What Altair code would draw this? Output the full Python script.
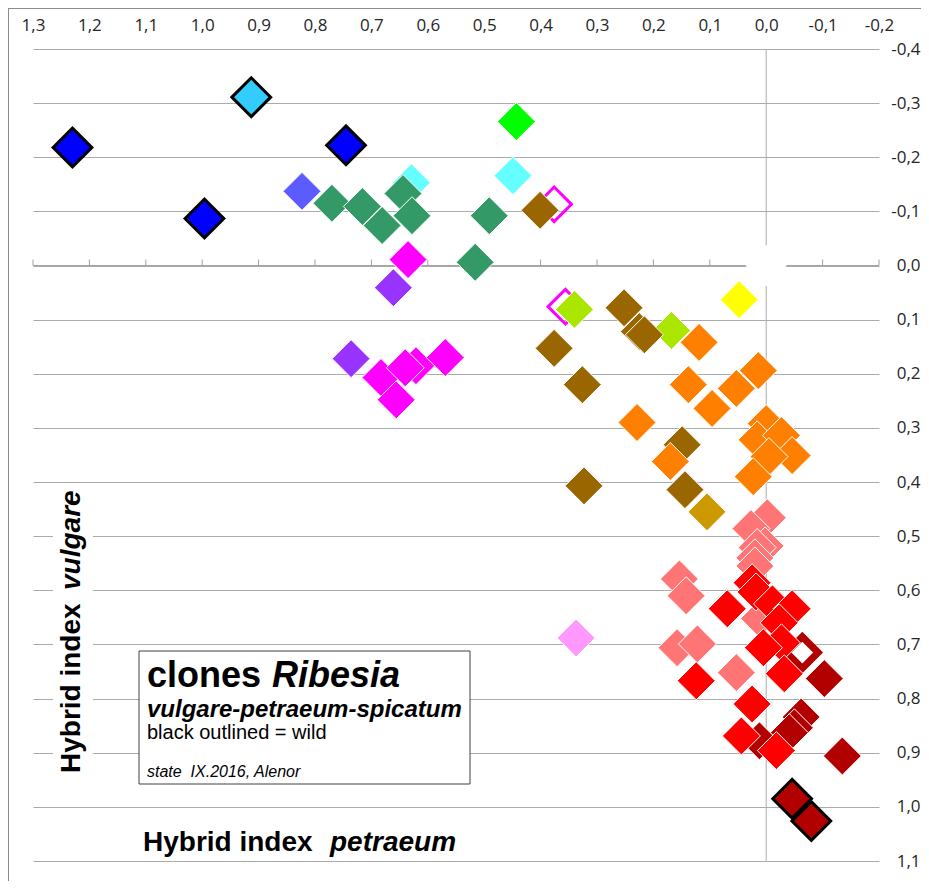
import altair as alt
import pandas as pd

# ---------------- data ----------------
periwinkle_x = [0.823]
periwinkle_y = [-0.137]
cyan_x = [0.629, 0.449]
cyan_y = [-0.153, -0.166]
green_x = [0.770, 0.716, 0.681, 0.644, 0.628, 0.491, 0.516]
green_y = [-0.115, -0.109, -0.074, -0.133, -0.092, -0.092, -0.006]
lime_x = [0.443]
lime_y = [-0.266]
hollow_magenta_x = [0.376, 0.356]
hollow_magenta_y = [-0.113, 0.076]
magenta_x = [0.635, 0.621, 0.683, 0.640, 0.569, 0.656]
magenta_y = [-0.011, 0.185, 0.207, 0.189, 0.170, 0.248]
purple_x = [0.661, 0.736]
purple_y = [0.041, 0.172]
yellowgreen_x = [0.340, 0.168]
yellowgreen_y = [0.081, 0.120]
brown_x = [0.401, 0.252, 0.225, 0.216, 0.376, 0.326, 0.149, 0.144, 0.323]
brown_y = [-0.102, 0.078, 0.122, 0.128, 0.153, 0.220, 0.331, 0.414, 0.407]
yellow_x = [0.048]
yellow_y = [0.063]
gold_x = [0.105]
gold_y = [0.455]
orange_x = [0.119, 0.138, 0.014, 0.053, 0.096, 0.229, 0.170, 0.000, 0.016, -0.027, -0.046, -0.005, 0.023]
orange_y = [0.142, 0.220, 0.194, 0.227, 0.264, 0.290, 0.362, 0.292, 0.322, 0.314, 0.351, 0.353, 0.390]
pink_x = [-0.002, 0.027, 0.002, 0.016, 0.020, 0.020, 0.154, 0.142, 0.012, 0.158, 0.122, 0.053]
pink_y = [0.466, 0.486, 0.518, 0.521, 0.540, 0.555, 0.579, 0.610, 0.652, 0.706, 0.699, 0.752]
violet_x = [0.337]
violet_y = [0.688]
hollow_darkred_x = [-0.064]
hollow_darkred_y = [0.715]
darkred_x = [-0.103, -0.062, -0.050, -0.041, 0.012, -0.135]
darkred_y = [0.763, 0.834, 0.854, 0.863, 0.878, 0.906]
red_x = [0.025, 0.018, 0.069, -0.011, -0.046, -0.023, -0.027, 0.005, -0.032, 0.124, 0.025, 0.044, -0.018]
red_y = [0.586, 0.603, 0.634, 0.625, 0.634, 0.660, 0.697, 0.706, 0.754, 0.767, 0.810, 0.869, 0.896]
wild_blue_x = [1.230, 0.745, 0.996]
wild_blue_y = [-0.218, -0.222, -0.087]
wild_lightblue_x = [0.913]
wild_lightblue_y = [-0.311]
wild_darkred_x = [-0.046, -0.080]
wild_darkred_y = [0.985, 1.026]

x_ticks = [-0.2, -0.1, 0.0, 0.1, 0.2, 0.3, 0.4, 0.5, 0.6, 0.7, 0.8, 0.9, 1.0, 1.1, 1.2, 1.3]
y_ticks = [-0.4, -0.3, -0.2, -0.1, 0.0, 0.1, 0.2, 0.3, 0.4, 0.5, 0.6, 0.7, 0.8, 0.9, 1.0, 1.1]

# ---------------- styles (fill, stroke, strokeWidth, size) ----------------
groups = [
    ("periwinkle", periwinkle_x, periwinkle_y, "#5B5BFF", "white", 1, 1444),
    ("cyan", cyan_x, cyan_y, "#66FFFF", "white", 1, 1444),
    ("green", green_x, green_y, "#339966", "white", 1, 1444),
    ("lime", lime_x, lime_y, "#00FF00", "white", 1, 1444),
    ("hollow_magenta", hollow_magenta_x, hollow_magenta_y, "transparent", "#FF00FF", 3, 1200),
    ("magenta", magenta_x, magenta_y, "#FF00FF", "white", 1, 1444),
    ("purple", purple_x, purple_y, "#9933FF", "white", 1, 1444),
    ("yellowgreen", yellowgreen_x, yellowgreen_y, "#AAE600", "white", 1, 1444),
    ("brown", brown_x, brown_y, "#996600", "white", 1, 1444),
    ("yellow", yellow_x, yellow_y, "#FFFF00", "white", 1, 1444),
    ("gold", gold_x, gold_y, "#CC9900", "white", 1, 1444),
    ("orange", orange_x, orange_y, "#FF8000", "white", 1, 1444),
    ("pink", pink_x, pink_y, "#FF7575", "white", 1, 1444),
    ("violet", violet_x, violet_y, "#FF99FF", "white", 1, 1444),
    ("hollow_darkred", hollow_darkred_x, hollow_darkred_y, "white", "#B20000", 7, 1000),
    ("darkred", darkred_x, darkred_y, "#B20000", "white", 1, 1444),
    ("red", red_x, red_y, "#FF0000", "white", 1, 1444),
    ("wild_blue", wild_blue_x, wild_blue_y, "#0000FF", "black", 3, 1500),
    ("wild_lightblue", wild_lightblue_x, wild_lightblue_y, "#33CCFF", "black", 3, 1500),
    ("wild_darkred", wild_darkred_x, wild_darkred_y, "#B20000", "black", 3, 1500),
]

rows = []
i = 0
for name, xs, ys, fill, stroke, sw, size in groups:
    for xv, yv in zip(xs, ys):
        rows.append({"i": i, "x": xv, "y": yv, "fill": fill, "stroke": stroke, "sw": sw, "size": size})
        i += 1
df = pd.DataFrame(rows)

W, H = 846, 812
GRID = "#ABABAB"
FONT = "Liberation Sans"
LABEL_EXPR = "(datum.value < -0.001 ? '-' : '') + replace(format(abs(datum.value), '.1f'), '.', ',')"

xscale = alt.Scale(domain=[-0.2, 1.3], reverse=True, nice=False, zero=False)
yscale = alt.Scale(domain=[-0.4, 1.1], reverse=True, nice=False, zero=False)

xaxis = alt.Axis(orient="top", values=x_ticks, labelExpr=LABEL_EXPR, grid=False, ticks=False,
                 tickSize=0, domain=False, labelFont="Open Sans", labelFontSize=17,
                 labelColor="#262626", labelPadding=19, labelBaseline="alphabetic",
                 labelFlush=False, labelOverlap=False, title=None)
yaxis = alt.Axis(orient="right", values=y_ticks, labelExpr=LABEL_EXPR, grid=True, gridColor=GRID,
                 gridWidth=1, ticks=False, tickSize=0, domain=False, labelFont="Open Sans",
                 labelFontSize=17, labelColor="#262626", labelAlign="right", labelPadding=41,
                 labelFlush=False, labelOverlap=False, title=None)

one = pd.DataFrame({"a": [0]})

# white patch behind the vertical title (interrupts gridlines)
title_bg = alt.Chart(one).mark_rect(fill="white").encode(
    x=alt.value(20), x2=alt.value(60), y=alt.value(441), y2=alt.value(731))

# vertical line at x = 0
vline = alt.Chart(one).mark_rule(color=GRID, strokeWidth=1).encode(
    x=alt.datum(0.0, scale=xscale, axis=xaxis), y=alt.datum(-0.4, scale=yscale, axis=yaxis),
    y2=alt.datum(1.1))

# horizontal axis line at y = 0 with ticks
hline = alt.Chart(one).mark_rule(color="#A0A0A0", strokeWidth=1).encode(
    x=alt.datum(-0.2), x2=alt.datum(1.3), y=alt.datum(0.0))
tick_df = pd.DataFrame({"t": x_ticks})
hticks = alt.Chart(tick_df).mark_rule(color="#A0A0A0", strokeWidth=1).encode(
    x="t:Q", y=alt.datum(0.0), y2=alt.datum(-0.011))

# white marker at origin
origin = alt.Chart(pd.DataFrame({"x": [0.0], "y": [0.0]})).mark_point(
    shape="diamond", filled=True, fill="white", strokeWidth=0, size=1700, opacity=1
).encode(x="x:Q", y="y:Q")

points = alt.Chart(df).mark_point(shape="diamond", filled=True, opacity=1).encode(
    x=alt.X("x:Q", scale=xscale, axis=xaxis),
    y=alt.Y("y:Q", scale=yscale, axis=yaxis),
    fill=alt.Fill("fill:N", scale=None),
    stroke=alt.Stroke("stroke:N", scale=None),
    strokeWidth=alt.StrokeWidth("sw:Q", scale=None),
    size=alt.Size("size:Q", scale=None),
    order=alt.Order("i:Q"),
)

def txt(text, x, y, size, weight="normal", style="normal", angle=0, font=FONT, baseline="alphabetic"):
    return alt.Chart(one).mark_text(
        text=text, font=font, fontSize=size, fontWeight=weight, fontStyle=style,
        align="left", baseline=baseline, angle=angle, color="black"
    ).encode(x=alt.value(x), y=alt.value(y))

# axis titles
ytitle1 = txt("Hybrid index", 39, 724, 28, "bold", angle=270, baseline="middle")
ytitle2 = txt("vulgare", 39, 541, 28, "bold", "italic", angle=270, baseline="middle")
xtitle1 = txt("Hybrid index", 110, 802, 28, "bold")
xtitle2 = txt("petraeum", 297, 802, 28, "bold", "italic")

# info box
box = alt.Chart(one).mark_rect(fill="white", stroke="#404040", strokeWidth=1).encode(
    x=alt.value(106), x2=alt.value(437), y=alt.value(602), y2=alt.value(735))
b1 = txt("clones", 114, 638, 36, "bold")
b2 = txt("Ribesia", 239, 638, 36, "bold", "italic")
b3 = txt("vulgare-petraeum-spicatum", 114, 668, 24, "bold", "italic")
b4 = txt("black outlined = wild", 114, 690, 20)
b5 = txt("state\u00a0 IX.2016, Alenor", 114, 728, 16, style="italic")

# outer frame (left and top edges)
frame_left = alt.Chart(one).mark_rule(color="#8C8C8C", strokeWidth=1).encode(
    x=alt.value(-24.5), y=alt.value(-41), y2=alt.value(832))
frame_top = alt.Chart(one).mark_rule(color="#8C8C8C", strokeWidth=1).encode(
    x=alt.value(-25), x2=alt.value(888), y=alt.value(-40.5))

chart = alt.layer(
    vline, title_bg, hline, hticks, origin, points,
    ytitle1, ytitle2, xtitle1, xtitle2, box, b1, b2, b3, b4, b5, frame_left, frame_top
).properties(
    width=W, height=H,
    autosize=alt.AutoSizeParams(type="none"),
    padding={"left": 25, "top": 41, "right": 42, "bottom": 20},
    background="white",
).configure_view(stroke=None)

chart.save("out.html", embed_options={"renderer": "svg", "actions": False})
